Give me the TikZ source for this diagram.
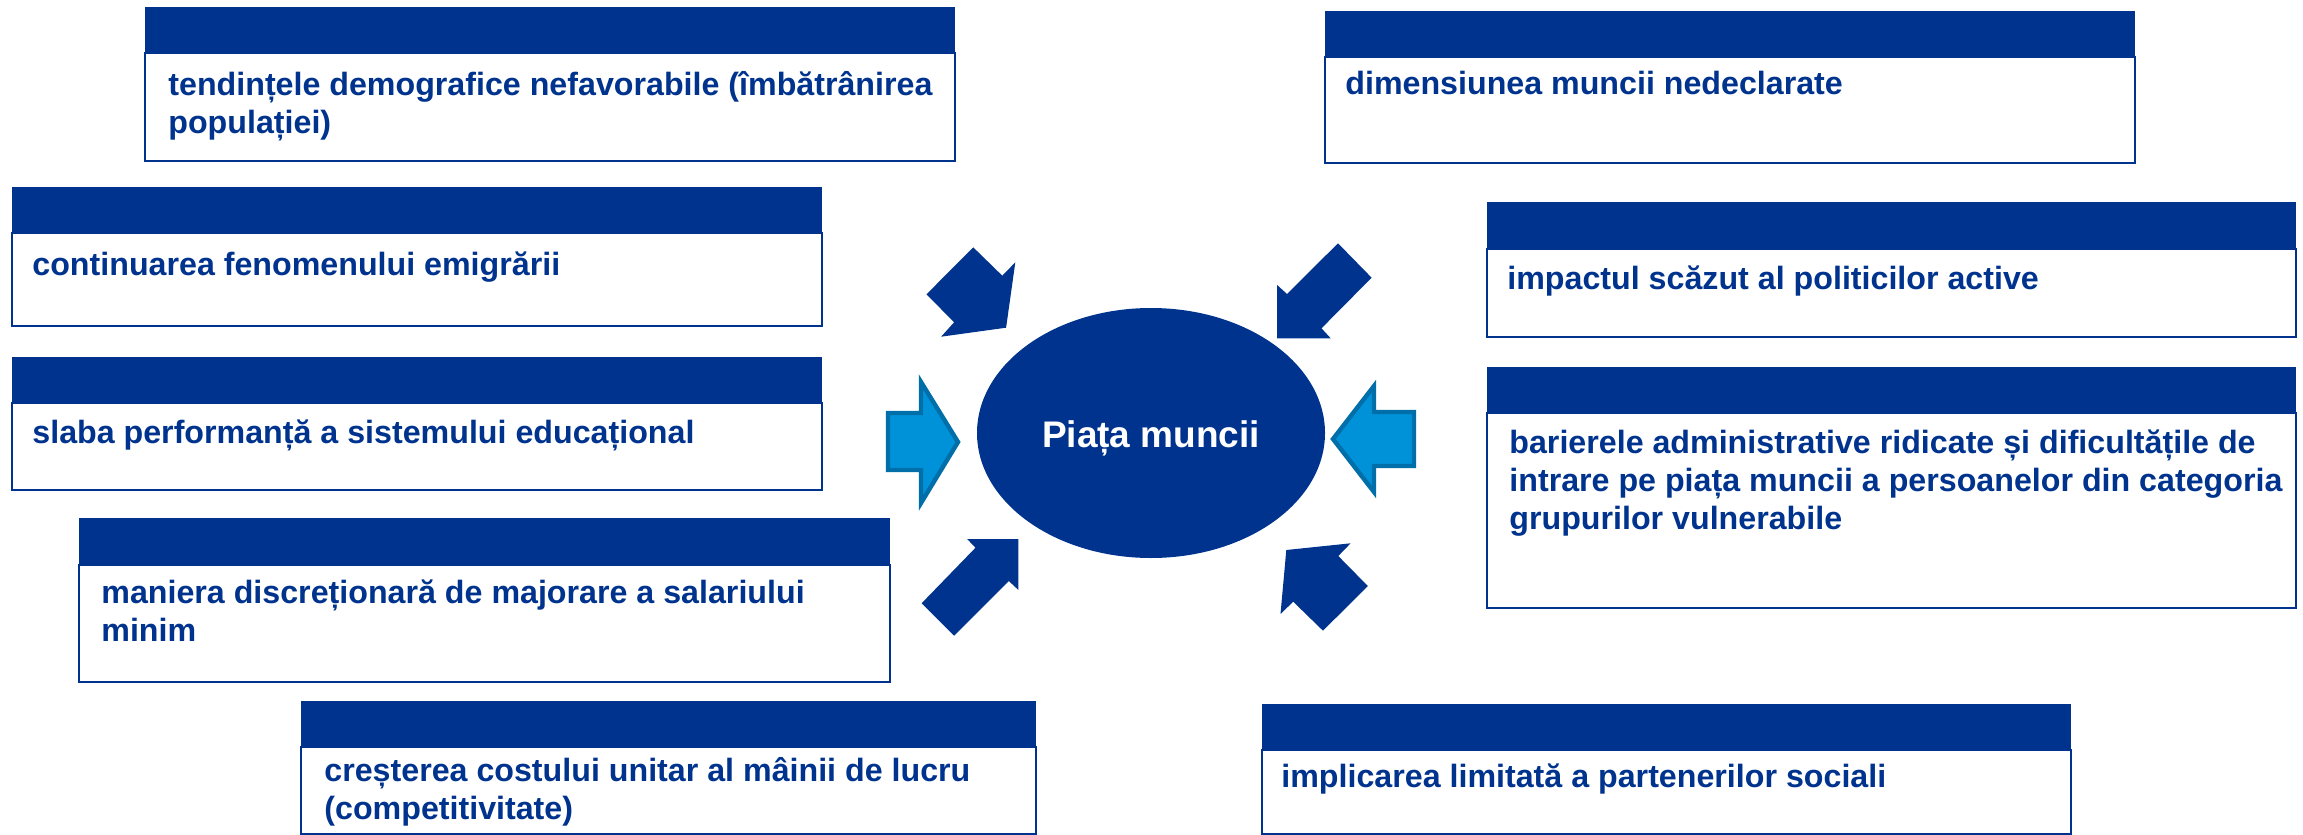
\documentclass[tikz,border=0pt]{standalone}
\usepackage{fontspec}
\setmainfont{Liberation Sans}
\usetikzlibrary{shapes.geometric,fit}
\definecolor{dblue}{RGB}{0,51,141}
\definecolor{lblue}{RGB}{0,146,217}
\definecolor{lbluedark}{RGB}{0,110,168}
\newcommand\factorlines[1]{\begin{tabular}[t]{@{}l@{}}#1\end{tabular}}
\tikzset{
  headbox/.style={fill=dblue, draw=none, inner sep=0pt},
  bodybox/.style={fill=white, draw=dblue, line width=1.25pt, inner sep=0pt},
  factortext/.style={text=dblue, font=\fontsize{16.1pt}{19pt}\selectfont\bfseries, anchor=base west, inner sep=0pt},
  darkarrow/.style={fill=dblue},
  lightarrow/.style={fill=lblue, draw=lbluedark, line width=2.2pt, line join=miter},
  marketnode/.style={ellipse, fill=dblue, inner sep=0pt}
}
\begin{document}
\begin{tikzpicture}[x=0.5pt,y=-0.5pt]
\useasboundingbox (0,0) rectangle (2303,835);

% centre
\node[marketnode, minimum width=174pt, minimum height=125pt] (piata) at (1151,433) {};
\node[text=white, font=\fontsize{18.5pt}{22pt}\selectfont\bfseries, anchor=base, inner sep=0pt] (piatatext) at (1151,447) {Piața muncii};

% left boxes
\node[bodybox, fit={(145,53) (955,161)}] (bodyA) {};
\node[headbox, fit={(145,7) (955,53)}] (headA) {};
\node[factortext] (textA) at (168,95) {\factorlines{tendințele demografice nefavorabile (îmbătrânirea\\populației)}};

\node[bodybox, fit={(12,233) (822,326)}] (bodyB) {};
\node[headbox, fit={(12,187) (822,233)}] (headB) {};
\node[factortext] (textB) at (32,275) {\factorlines{continuarea fenomenului emigrării}};

\node[bodybox, fit={(12,403) (822,490)}] (bodyC) {};
\node[headbox, fit={(12,357) (822,403)}] (headC) {};
\node[factortext] (textC) at (32,443) {\factorlines{slaba performanță a sistemului educațional}};

\node[bodybox, fit={(79,565) (890,682)}] (bodyD) {};
\node[headbox, fit={(79,518) (890,565)}] (headD) {};
\node[factortext] (textD) at (101,603) {\factorlines{maniera discreționară de majorare a salariului\\minim}};

\node[bodybox, fit={(301,747) (1036,834)}] (bodyE) {};
\node[headbox, fit={(301,701) (1036,747)}] (headE) {};
\node[factortext] (textE) at (324,781) {\factorlines{creșterea costului unitar al mâinii de lucru\\(competitivitate)}};

% right boxes
\node[bodybox, fit={(1325,57) (2135,163)}] (bodyF) {};
\node[headbox, fit={(1325,11) (2135,57)}] (headF) {};
\node[factortext] (textF) at (1345,94) {\factorlines{dimensiunea muncii nedeclarate}};

\node[bodybox, fit={(1487,249) (2296,337)}] (bodyG) {};
\node[headbox, fit={(1487,202) (2296,249)}] (headG) {};
\node[factortext] (textG) at (1507,289) {\factorlines{impactul scăzut al politicilor active}};

\node[bodybox, fit={(1487,413) (2296,608)}] (bodyH) {};
\node[headbox, fit={(1487,367) (2296,413)}] (headH) {};
\node[factortext] (textH) at (1509,453) {\factorlines{barierele administrative ridicate și dificultățile de\\intrare pe piața muncii a persoanelor din categoria\\grupurilor vulnerabile}};

\node[bodybox, fit={(1262,750) (2071,834)}] (bodyI) {};
\node[headbox, fit={(1262,704) (2071,750)}] (headI) {};
\node[factortext] (textI) at (1281,787) {\factorlines{implicarea limitată a partenerilor sociali}};

% dark block arrows
\fill[darkarrow] (926.5,294.3) -- (973.2,247.3) -- (1002.3,275.7) -- (1015.3,262.3) -- (1006.1,327.7) -- (941.1,336.7) -- (954.1,322.3) -- cycle;
\fill[darkarrow] (1338,243.3) -- (1371.6,277.7) -- (1321.5,328.3) -- (1330.7,338.3) -- (1277.1,338.3) -- (1277.1,285) -- (1287,294) -- cycle;
\fill[darkarrow] (921.6,603.3) -- (975.5,547.7) -- (967.1,539) -- (1018.4,539) -- (1018.4,590) -- (1008.8,581) -- (954.1,635.7) -- cycle;
\fill[darkarrow] (1286.3,550) -- (1350.6,543.3) -- (1338.3,556) -- (1367.8,586) -- (1323,630.7) -- (1293.2,601.7) -- (1280.5,614) -- cycle;

% light block arrows
\filldraw[lightarrow] (888,413) -- (921,413) -- (921,382) -- (958,442) -- (921,503) -- (921,470) -- (888,470) -- cycle;
\filldraw[lightarrow] (1414,412) -- (1374,412) -- (1374,386) -- (1333,439) -- (1374,492) -- (1374,466) -- (1414,466) -- cycle;
\end{tikzpicture}
\end{document}
